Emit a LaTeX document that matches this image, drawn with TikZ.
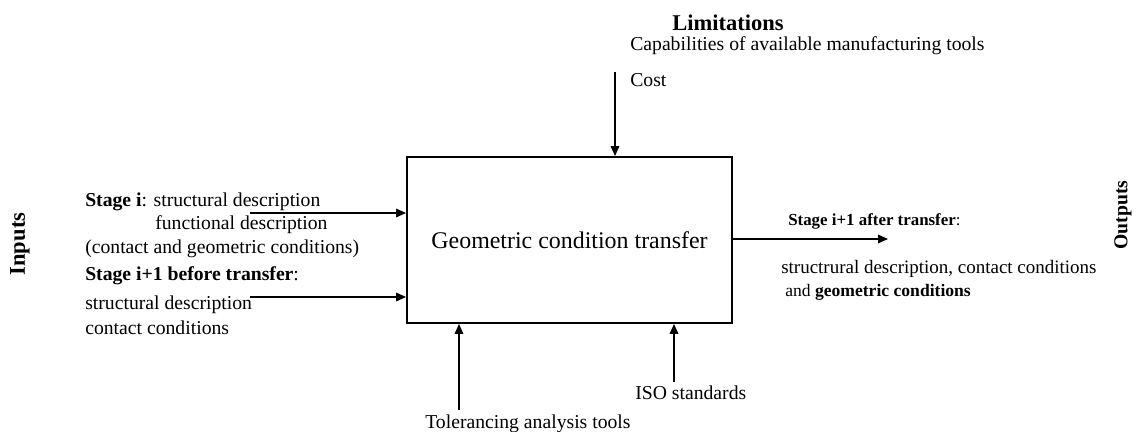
\documentclass[tikz,border=0pt]{standalone}
\usepackage{fontspec}
\setmainfont{Liberation Serif}
\usetikzlibrary{arrows.meta, positioning}

\begin{document}
\begin{tikzpicture}[
  x=0.025cm, y=-0.025cm,
  block/.style={rectangle, draw=black, line width=1.3pt, minimum width=8.125cm, minimum height=4.15cm, font=\fontsize{17}{20}\selectfont},
  txt/.style={anchor=base west, inner sep=0pt, font=\fontsize{14}{16}\selectfont},
  side/.style={inner sep=0pt, font=\fontsize{16}{18}\selectfont\bfseries},
  arr/.style={-{Triangle[length=7pt, width=6pt]}, line width=1.1pt}
]
  \useasboundingbox (0,0) rectangle (1137,432);

  \node[block] (gct) at (569.5,240) {Geometric condition transfer};

  % limitations
  \node[side, anchor=base] (lim) at (728,31) {Limitations};
  \node[txt] (cap) at (630,51) {Capabilities of available manufacturing tools};
  \node[txt] (cost) at (630,87) {Cost};
  \coordinate (limin) at (615,72);
  \draw[arr] (limin) -- (limin |- gct.north);

  % inputs
  \node[side, rotate=90] (inputs) at (20,244) {Inputs};
  \node[txt] (in1a) at (85,207) {\textbf{Stage i}: structural description};
  \node[txt] (in1b) at (155,230) {functional description};
  \node[txt] (in1c) at (85,254) {(contact and geometric conditions)};
  \node[txt] (in2a) at (85,281) {\textbf{Stage i+1 before transfer}:};
  \node[txt] (in2b) at (85,309) {structural description};
  \node[txt] (in2c) at (85,334) {contact conditions};
  \coordinate (in1) at (250,213);
  \coordinate (in2) at (250,297);
  \draw[arr] (in1) -- (in1 -| gct.west);
  \draw[arr] (in2) -- (in2 -| gct.west);

  % outputs
  \node[side, rotate=90, font=\fontsize{14}{16}\selectfont\bfseries] (outputs) at (1123,215) {Outputs};
  \node[txt, font=\fontsize{12}{14}\selectfont] (out1) at (788,226) {\textbf{Stage i+1 after transfer}:};
  \node[txt, font=\fontsize{13.5}{16}\selectfont] (out2) at (781,274) { structrural description, contact conditions};
  \node[txt, font=\fontsize{12.5}{15}\selectfont] (out3) at (785,297) {and \textbf{geometric conditions}};
  \coordinate (outend) at (888,239);
  \draw[arr] (outend -| gct.east) -- (outend);

  % mechanisms
  \node[txt] (iso) at (635,399) {ISO standards};
  \node[txt] (tat) at (425,428) {Tolerancing analysis tools};
  \coordinate (isoin) at (674,382);
  \coordinate (tatin) at (459,410);
  \draw[arr] (isoin) -- (isoin |- gct.south);
  \draw[arr] (tatin) -- (tatin |- gct.south);
\end{tikzpicture}
\end{document}
